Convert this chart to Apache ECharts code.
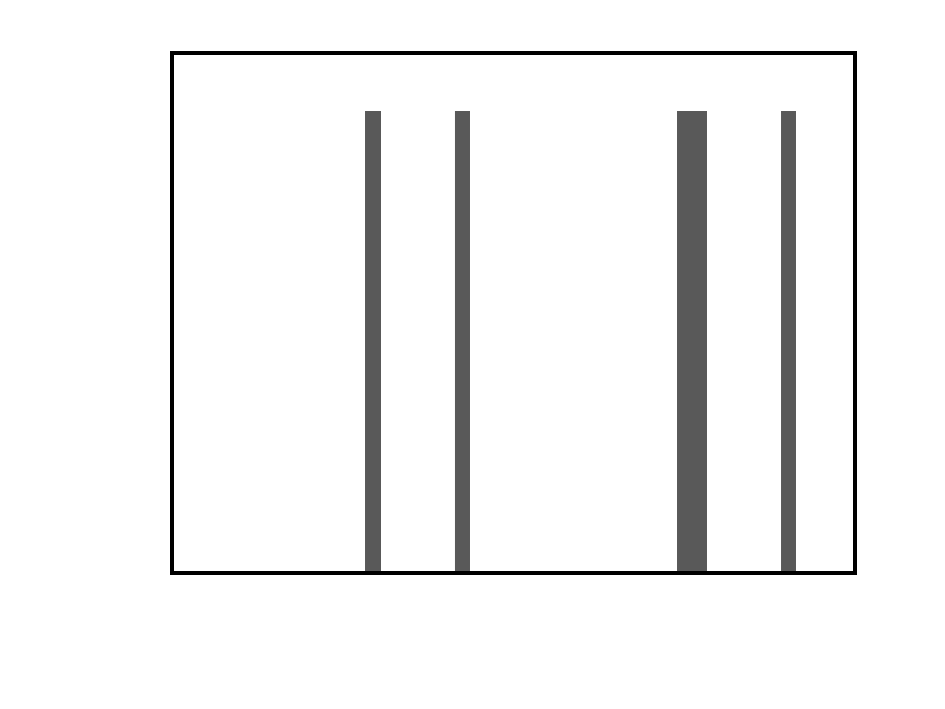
<!DOCTYPE html>
<html>
<head>
<meta charset="utf-8">
<script src="https://cdn.jsdelivr.net/npm/echarts@6/dist/echarts.min.js"></script>
<style>html,body{margin:0;padding:0;background:#fff;}#c{width:945px;height:709px;}</style>
</head>
<body>
<div id="c"></div>
<script>
// Bin edges (x-axis units 0-100) and heights (y-axis units 0-100)
var binStarts = [28.26, 41.43, 73.94, 89.17];
var binEnds   = [30.60, 43.63, 78.33, 91.36];
var heights   = [88.85, 88.85, 88.85, 88.85];
var xRange = [0, 100];
var yRange = [0, 100];

var data = binStarts.map(function (s, i) { return [s, binEnds[i], heights[i]]; });

var chart = echarts.init(document.getElementById('c'), null, {renderer: 'canvas'});
chart.setOption({
  animation: false,
  backgroundColor: '#fff',
  grid: {
    left: 172, top: 53, right: 90, bottom: 136, z: 10,
    show: true, borderColor: '#000', borderWidth: 4, backgroundColor: 'transparent'
  },
  xAxis: {
    type: 'value', min: xRange[0], max: xRange[1],
    axisLine: {show: false}, axisTick: {show: false}, axisLabel: {show: false}, splitLine: {show: false}
  },
  yAxis: {
    type: 'value', min: yRange[0], max: yRange[1],
    axisLine: {show: false}, axisTick: {show: false}, axisLabel: {show: false}, splitLine: {show: false}
  },
  series: [{
    type: 'custom',
    z: 1,
    data: data,
    encode: {x: [0, 1], y: 2},
    renderItem: function (params, api) {
      var p0 = api.coord([api.value(0), api.value(2)]);
      var p1 = api.coord([api.value(1), 0]);
      return {
        type: 'rect',
        shape: {x: p0[0], y: p0[1], width: p1[0] - p0[0], height: p1[1] - p0[1]},
        style: {fill: '#595959'}
      };
    }
  }]
});
</script>
</body>
</html>
